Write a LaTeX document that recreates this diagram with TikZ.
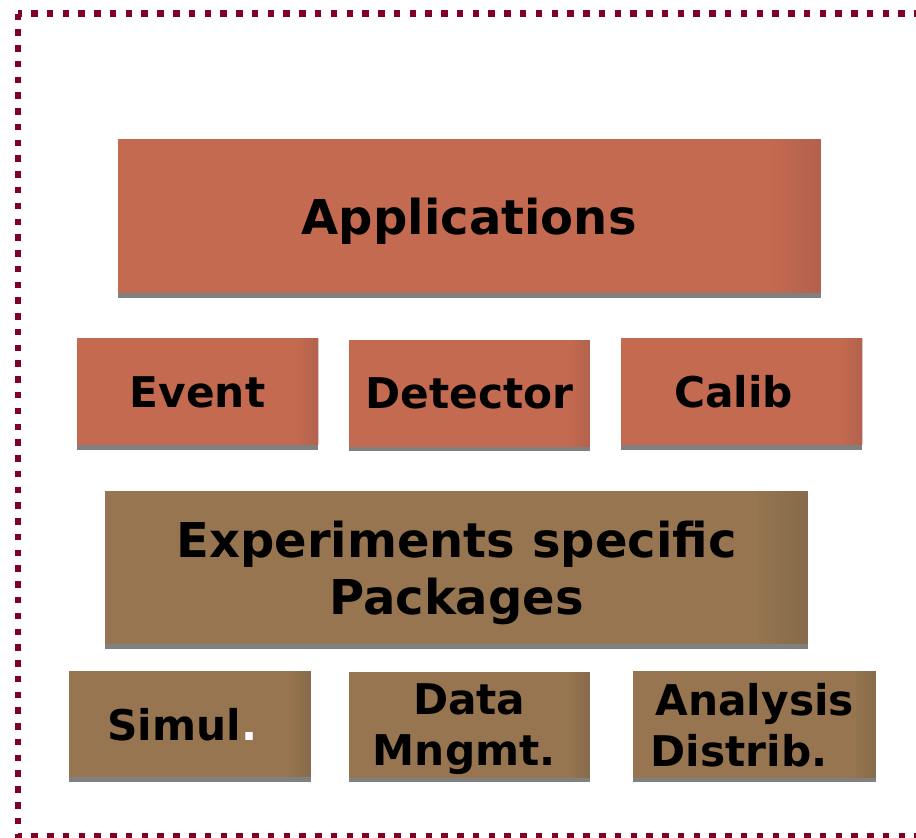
\documentclass[tikz,border=0pt]{standalone}
\usepackage{fontspec}
\setmainfont{DejaVu Sans}
\usetikzlibrary{shadows}
\definecolor{redbase}{HTML}{C46A50}
\definecolor{reddark}{HTML}{B3624D}
\definecolor{brnbase}{HTML}{967550}
\definecolor{brndark}{HTML}{876B4A}
\definecolor{shadowgray}{HTML}{808080}
\definecolor{framecol}{HTML}{800026}
\tikzset{
  blk/.style={inner sep=0pt, outer sep=0pt, text depth=0pt, align=center, text=black,
    drop shadow={shadow xshift=0pt, shadow yshift=-4.7pt, fill=shadowgray, opacity=1}},
  bigtxt/.style={font=\fontsize{48}{57}\selectfont\bfseries, text depth=-1.5pt},
  smalltxt/.style={font=\fontsize{42.3}{51}\selectfont\bfseries, text depth=-3.5pt},
  redblk/.style={blk, fill=redbase, path picture={
      \foreach \i in {1,...,10}{
        \fill[reddark!\i0!redbase]
          ([xshift={-#1+(\i-1)*#1/10}]path picture bounding box.north east)
          rectangle ([xshift={-#1+\i*#1/10+0.4pt}]path picture bounding box.south east);}}},
  brnblk/.style={blk, fill=brnbase, path picture={
      \foreach \i in {1,...,10}{
        \fill[brndark!\i0!brnbase]
          ([xshift={-#1+(\i-1)*#1/10}]path picture bounding box.north east)
          rectangle ([xshift={-#1+\i*#1/10+0.4pt}]path picture bounding box.south east);}}},
  frameline/.style={draw=framecol, line width=6.5pt, dash pattern=on 6.5pt off 9.27pt},
}
\begin{document}
\begin{tikzpicture}[x=1pt, y=-1pt]
\useasboundingbox (0,0) rectangle (916,838);
\begin{scope}
  \clip (0,0) rectangle (916,838);
  \coordinate (fa) at (18,13.5);
  \coordinate (fb) at (940,836);
  \draw[frameline] (fa) rectangle (fb);
\end{scope}
% top layer
\node[redblk=50pt, bigtxt, minimum width=703pt, minimum height=154.3pt] (apps) at (469.2,216.2) {Applications};
\node[redblk=20pt, smalltxt, minimum width=241.6pt, minimum height=106.7pt] (event) at (197.5,391.7) {Event};
\node[redblk=20pt, smalltxt, minimum width=241.3pt, minimum height=106.5pt] (detector) at (469.3,393.5) {Detector};
\node[redblk=20pt, smalltxt, minimum width=241.6pt, minimum height=106.7pt] (calib) at (741.5,391.7) {Calib\hspace*{16pt}};
% lower layer
\node[brnblk=50pt, bigtxt, minimum width=703pt, minimum height=153.8pt] (exp) at (456.5,567.4) {Experiments specific\\Packages};
\node[brnblk=20pt, smalltxt, minimum width=241.7pt, minimum height=106pt] (simul) at (189.9,724.3) {Simul{\color{white}.}\hspace*{15pt}};
\node[brnblk=20pt, smalltxt, minimum width=241.5pt, minimum height=106pt] (data) at (469.3,724.7) {Data\\Mngmt.\hspace*{10pt}};
\node[brnblk=20pt, smalltxt, minimum width=242.7pt, minimum height=106.4pt] (analysis) at (754.7,724.5) {Analysis\\Distrib.\hspace*{31pt}};
\end{tikzpicture}
\end{document}
